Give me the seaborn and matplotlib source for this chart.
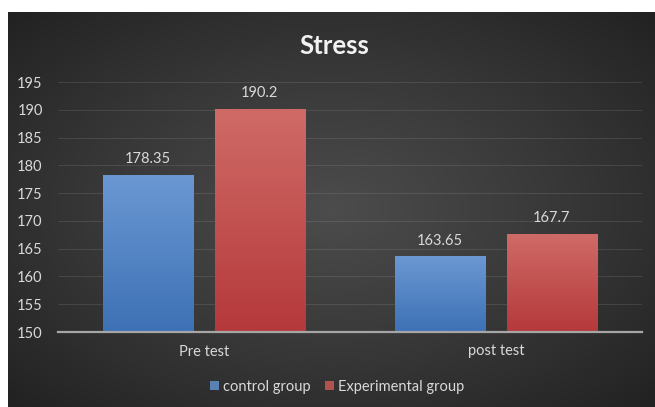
import numpy as np
import pandas as pd
import matplotlib.pyplot as plt
import seaborn as sns
from matplotlib.colors import LinearSegmentedColormap

# ==============================
# DATA
# ==============================
tests = ["Pre test", "post test"]
groups = ["control group", "Experimental group"]
control = [178.35, 163.65]
experimental = [190.2, 167.7]
y_ticks = [150, 155, 160, 165, 170, 175, 180, 185, 190, 195]

df = pd.DataFrame({
    "test": tests * 2,
    "group": [groups[0]] * 2 + [groups[1]] * 2,
    "score": control + experimental,
})

sns.set_style("dark")
plt.rcParams["font.family"] = ["Lato", "DejaVu Sans"]

TEXT = "#d9d9d9"

fig = plt.figure(figsize=(6.55, 4.07), dpi=100)
fig.patch.set_facecolor("white")

# ==============================
# DARK PANEL (radial gradient)
# ==============================
bg = fig.add_axes([8 / 655, 0, 1 - 8 / 655, 395 / 407])
yy, xx = np.mgrid[-1:1:200j, -1:1:300j]
r = np.sqrt(xx ** 2 + yy ** 2) / np.sqrt(2)
bg_cmap = LinearSegmentedColormap.from_list("bg", ["#4c4c4c", "#383838", "#222222"])
bg.imshow(r, cmap=bg_cmap, aspect="auto", extent=[0, 1, 0, 1])
bg.axis("off")

# ==============================
# BARS
# ==============================
ax = fig.add_axes([58 / 655, 1 - 332 / 407, 584 / 655, 250 / 407])
ax.set_facecolor("none")

palette = {"control group": "#4a7fc1", "Experimental group": "#c0443f"}
grads = {"control group": ("#3d71b5", "#6b98d3"),
         "Experimental group": ("#b5393a", "#cf6b67")}

sns.barplot(data=df, x="test", y="score", hue="group", order=tests,
            hue_order=groups, palette=palette, width=0.764, gap=0.19,
            ax=ax, edgecolor="none")

# gradient fill on every bar, clipped to the bar shape
for cont, grp in zip(ax.containers, groups):
    cmap = LinearSegmentedColormap.from_list(grp, list(grads[grp]))
    for patch in cont.patches:
        x0 = patch.get_x()
        w = patch.get_width()
        top = patch.get_height()
        im = ax.imshow(np.linspace(0, 1, 100).reshape(-1, 1), cmap=cmap,
                       aspect="auto", origin="lower",
                       extent=[x0, x0 + w, y_ticks[0], top], zorder=patch.get_zorder())
        im.set_clip_path(patch)
    ax.bar_label(cont, labels=[f"{v:g}" for v in cont.datavalues],
                 padding=6, color=TEXT, fontsize=10.5)

ax.set_xlim(-0.5, 1.5)
ax.set_ylim(y_ticks[0], y_ticks[-1])
ax.set_yticks(y_ticks)
ax.yaxis.grid(True, color="#ffffff", alpha=0.1, lw=0.8)
ax.xaxis.grid(False)
ax.set_axisbelow(True)

for side in ["top", "right", "left"]:
    ax.spines[side].set_visible(False)
ax.spines["bottom"].set_color("#a6a6a6")
ax.spines["bottom"].set_linewidth(1.6)

ax.tick_params(axis="y", length=0, pad=11, colors=TEXT, labelsize=10.5)
ax.tick_params(axis="x", length=0, pad=9, colors=TEXT, labelsize=10.5)
ax.set_xlabel("")
ax.set_ylabel("")

# ==============================
# LEGEND + TITLE
# ==============================
handles, labels = ax.get_legend_handles_labels()
ax.legend(handles, labels, loc="center", bbox_to_anchor=(0.478, -0.22),
          ncol=2, frameon=False, fontsize=10.5, labelcolor=TEXT,
          handlelength=0.6, handleheight=0.6, handletextpad=0.3,
          columnspacing=1.0)

fig.text(334 / 655, 1 - 46 / 407, "Stress", ha="center", va="center",
         fontsize=18.5, fontweight="bold", color="#f2f2f2")

fig.savefig("out.png", dpi=100)
plt.close()
